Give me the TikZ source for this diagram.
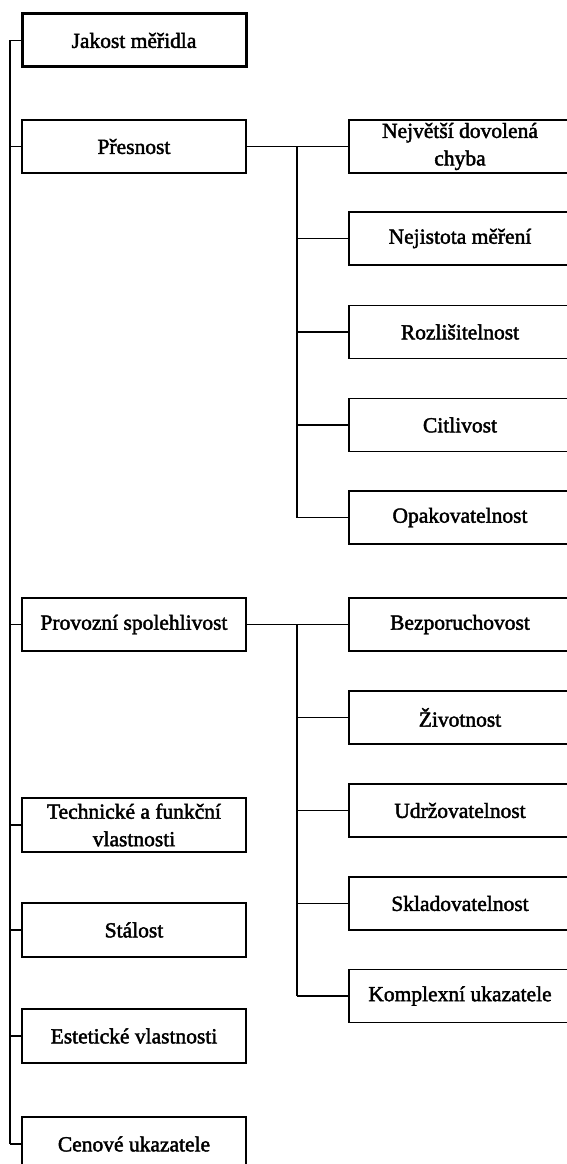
\documentclass[tikz,border=0pt]{standalone}
\usepackage{fontspec}
\setmainfont{Liberation Serif}
\newfontfamily\scanfont{Liberation Serif}[FakeBold=2.0]
\begin{document}
\begin{tikzpicture}[x=1pt,y=-1pt,
  box/.style={draw, line width=1.7pt, minimum height=53pt, inner sep=0pt,
    align=center, font=\scanfont\fontsize{21.5}{27.5}\selectfont},
  lbox/.style={box, minimum width=224pt},
  rbox/.style={box, minimum width=222pt},
  conn/.style={line width=1.7pt}]
\useasboundingbox (0,0) rectangle (567,1164);
\clip (0,0) rectangle (567,1164);
\fill[white] (0,0) rectangle (567,1164);
% left column
\node[lbox, line width=3pt] (jak) at (134,40.5) {Jakost měřidla};
\node[lbox] (pres) at (134,146.5) {Přesnost};
\node[lbox] (prov) at (134,624.5) {Provozní spolehlivost};
\node[lbox, minimum height=54pt] (tech) at (134,825) {Technické a funkční\\vlastnosti};
\node[lbox, minimum height=54pt] (stal) at (134,930) {Stálost};
\node[lbox, minimum height=54pt] (est) at (134,1036) {Estetické vlastnosti};
\node[lbox, minimum height=54pt] (cen) at (134,1144) {Cenové ukazatele};
% right column, group 1
\node[rbox] (a1) at (460,146.5) {Největší dovolená\\chyba};
\node[rbox] (a2) at (460,238.5) {Nejistota měření};
\node[rbox] (a3) at (460,332) {Rozlišitelnost};
\node[rbox] (a4) at (460,425) {Citlivost};
\node[rbox] (a5) at (460,517.5) {Opakovatelnost};
% right column, group 2
\node[rbox] (b1) at (460,624.5) {Bezporuchovost};
\node[rbox] (b2) at (460,717.5) {Životnost};
\node[rbox] (b3) at (460,810.5) {Udržovatelnost};
\node[rbox] (b4) at (460,903.5) {Skladovatelnost};
\node[rbox] (b5) at (460,996) {Komplexní ukazatele};
% buses
\coordinate (L) at (10,0);
\coordinate (B) at (297,0);
\draw[conn] (L |- jak.west) -- (L |- cen.west);
\foreach \n in {jak,pres,prov,tech,stal,est,cen}
  \draw[conn] (L |- \n.west) -- (\n.west);
% group 1
\draw[conn] (pres.east) -- (a1.west);
\draw[conn] (B |- a1.west) -- (B |- a5.west);
\foreach \n in {a2,a3,a4,a5}
  \draw[conn] (B |- \n.west) -- (\n.west);
% group 2
\draw[conn] (prov.east) -- (b1.west);
\draw[conn] (B |- b1.west) -- (B |- b5.west);
\foreach \n in {b2,b3,b4,b5}
  \draw[conn] (B |- \n.west) -- (\n.west);
\end{tikzpicture}
\end{document}
